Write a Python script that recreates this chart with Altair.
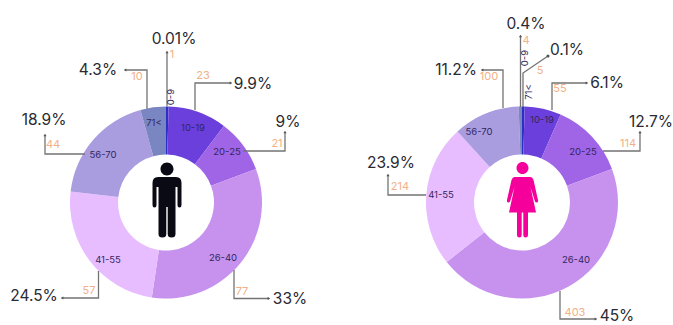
import math
import altair as alt
import pandas as pd

W, H = 673, 325
FONT = "Inter"

# Respondents per age band, men then women
age_bands = ["0-9", "10-19", "20-25", "26-40", "41-55", "56-70", "71<"]
men_counts = [1, 23, 21, 77, 57, 44, 10]
women_counts = [4, 55, 114, 403, 214, 100, 5]
band_colors = ["#2b2fc4", "#6b3fdb", "#9f65e6", "#c692ee", "#e8bdff", "#a99cdf", "#7a86c2"]

men_percent = ["0.01%", "9.9%", "9%", "33%", "24.5%", "18.9%", "4.3%"]
women_percent = ["0.4%", "6.1%", "12.7%", "45%", "23.9%", "11.2%", "0.1%"]

# Label anchors in canvas pixels, one (x, y) per age band
men_percent_xy = [(174, 39), (253, 84), (288, 122), (290, 299), (34, 296), (44, 120), (98, 70)]
women_percent_xy = [(526, 24), (607, 83), (651, 122), (617, 316), (391, 163), (456, 70), (567, 50)]
men_count_xy = [(172, 55), (203, 76), (277, 144), (242, 292), (89, 291), (53, 145), (137, 77)]
women_count_xy = [(526, 41), (560, 89), (628, 144), (575, 313), (400, 187), (489, 77), (540, 71)]
men_band_xy = [(171, 97), (193, 128), (227, 152), (223, 258), (108, 260), (103, 155), (154, 123)]
women_band_xy = [(525, 58), (542, 120), (583, 152), (576, 260), (441, 195), (479, 132), (529, 92)]
men_band_angle = [270, 0, 0, 0, 0, 0, 0]
women_band_angle = [270, 0, 0, 0, 0, 0, 270]

# Leader lines, outer end last; the marker sits on that end
leaders = [
    ([(167, 106), (167, 52)], "triangle-up"),
    ([(195, 110), (195, 83), (231, 83)], "triangle-right"),
    ([(243, 151), (285, 151), (285, 132)], "triangle-up"),
    ([(234, 270), (234, 298.5), (269, 298.5)], "triangle-right"),
    ([(98.5, 271), (98.5, 298), (62, 298)], "triangle-left"),
    ([(85, 154), (45, 154), (45, 135)], "triangle-up"),
    ([(147, 109), (147, 70), (125, 70)], "triangle-left"),
    ([(520.5, 107), (520.5, 36)], "triangle-up"),
    ([(523, 107), (523, 73), (548, 56)], "circle"),
    ([(552, 110), (552, 83), (587, 83)], "triangle-right"),
    ([(603, 151), (640, 151), (640, 132)], "triangle-up"),
    ([(560, 291), (560, 319), (596, 319)], "triangle-right"),
    ([(426, 195), (388, 195), (388, 175)], "triangle-up"),
    ([(503, 108), (503, 70), (482, 70)], "triangle-left"),
]

# Pictograms, as symbol paths centred on the symbol's anchor
MAN_ICON = (
    "M6.5 -34A6.5 6.5 0 1 1 -6.5 -34A6.5 6.5 0 1 1 6.5 -34Z"
    "M-9 -26L9 -26Q14.5 -26 14.5 -20L14.5 2Q14.5 4.5 12.5 4.5Q10.5 4.5 10.5 2L10.5 -16L8.5 -16"
    "L8.5 31Q8.5 34.5 4.6 34.5Q0.7 34.5 0.7 31L0.7 4L-0.7 4L-0.7 31Q-0.7 34.5 -4.6 34.5"
    "Q-8.5 34.5 -8.5 31L-8.5 -16L-10.5 -16L-10.5 2Q-10.5 4.5 -12.5 4.5Q-14.5 4.5 -14.5 2"
    "L-14.5 -20Q-14.5 -26 -9 -26Z"
)
WOMAN_ICON = (
    "M6 -35A6 6 0 1 1 -6 -35A6 6 0 1 1 6 -35Z"
    "M-8 -26L8 -26Q10 -26 11 -23L15.5 -3Q16 -0.5 14 -0.5Q12.5 -0.5 12 -3L8 -16L13.5 9.5"
    "L5.5 9.5L5.5 32Q5.5 34.5 3.1 34.5Q0.8 34.5 0.8 32L0.8 9.5L-0.8 9.5L-0.8 32Q-0.8 34.5 -3.1 34.5"
    "Q-5.5 34.5 -5.5 32L-5.5 9.5L-13.5 9.5L-8 -16L-12 -3Q-12.5 -0.5 -14 -0.5Q-16 -0.5 -15.5 -3"
    "L-11 -23Q-10 -26 -8 -26Z"
)

x_px = alt.X("px:Q", scale=alt.Scale(domain=[0, W], range=[0, W], nice=False, zero=False), axis=None)
y_px = alt.Y("py:Q", scale=alt.Scale(domain=[0, H], range=[0, H], nice=False, zero=False), axis=None)


def donut(counts, cx, cy):
    table = pd.DataFrame({"band": age_bands, "count": counts, "rank": range(len(counts))})
    return alt.Chart(table).mark_arc(innerRadius=48, outerRadius=96).encode(
        theta=alt.Theta(
            "count:Q", stack="normalize",
            scale=alt.Scale(domain=[0, 1], range=[0, 2 * math.pi], nice=False),
        ),
        order=alt.Order("rank:Q"),
        color=alt.Color("band:N", scale=alt.Scale(domain=age_bands, range=band_colors), legend=None),
        x=alt.value(cx),
        y=alt.value(cy),
    )


def text_layer(labels, anchors, size, color, weight=400, angles=None):
    table = pd.DataFrame({
        "label": labels,
        "px": [p[0] for p in anchors],
        "py": [p[1] for p in anchors],
        "turn": angles if angles else [0] * len(labels),
    })
    return alt.Chart(table).mark_text(
        font=FONT, fontSize=size, color=color, fontWeight=weight, baseline="middle", align="center"
    ).encode(x=x_px, y=y_px, text="label:N", angle=alt.Angle("turn:Q", scale=None))


def icon(path, color, cx, cy):
    table = pd.DataFrame({"px": [cx], "py": [cy]})
    return alt.Chart(table).mark_point(
        shape=path, size=4, filled=True, fill=color, strokeWidth=0, opacity=1
    ).encode(x=x_px, y=y_px)


line_rows = []
tip_rows = []
for idx, (points, tip) in enumerate(leaders):
    for step, (px, py) in enumerate(points):
        line_rows.append({"leader": idx, "step": step, "px": px, "py": py})
    tip_rows.append({"px": points[-1][0], "py": points[-1][1], "tip": tip})

leader_lines = alt.Chart(pd.DataFrame(line_rows)).mark_line(
    color="#737373", strokeWidth=1.3, interpolate="linear"
).encode(x=x_px, y=y_px, detail="leader:N", order="step:Q")

leader_tips = alt.Chart(pd.DataFrame(tip_rows)).mark_point(
    filled=True, color="#555555", size=10, opacity=1
).encode(x=x_px, y=y_px, shape=alt.Shape("tip:N", scale=None))

chart = alt.layer(
    donut(men_counts, 166, 202.5),
    donut(women_counts, 522, 202.5),
    icon(MAN_ICON, "#0a0a14", 167, 203),
    icon(WOMAN_ICON, "#f5009a", 522.5, 203),
    leader_lines,
    leader_tips,
    text_layer(men_percent, men_percent_xy, 15.5, "#2a2a33"),
    text_layer(women_percent, women_percent_xy, 15.5, "#2a2a33"),
    text_layer([str(v) for v in men_counts], men_count_xy, 11, "#f2b088"),
    text_layer([str(v) for v in women_counts], women_count_xy, 11, "#f2b088"),
    text_layer(age_bands, men_band_xy, 9.5, "#33265e", angles=men_band_angle),
    text_layer(age_bands, women_band_xy, 9.5, "#33265e", angles=women_band_angle),
).properties(
    width=W,
    height=H,
    padding=0,
    autosize=alt.AutoSizeParams(type="none"),
    background="white",
).configure_view(stroke=None)

chart.save("out.html", embed_options={"renderer": "svg", "actions": False})
